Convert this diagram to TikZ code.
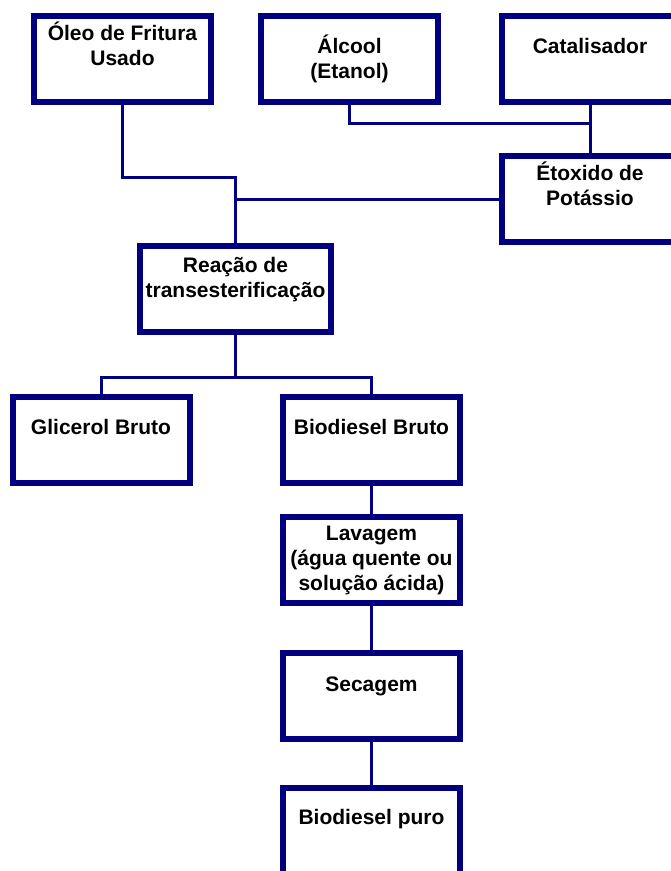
\documentclass[tikz,border=0pt]{standalone}
\usepackage{fontspec}
\setmainfont{Liberation Sans}
\definecolor{navy}{RGB}{0,0,128}
\newcommand{\boxtext}[3][177pt]{\parbox[t][86pt][t]{#1}{\centering\rule{0pt}{#2pt}#3}}
\begin{document}
\begin{tikzpicture}[x=1pt,y=-1pt,
	caixa/.style={draw=navy,line width=6pt,inner sep=0pt,font=\bfseries\fontsize{21}{25}\selectfont},
	liga/.style={draw=navy,line width=3pt}]
				\useasboundingbox (0,0) rectangle (671,871);
				\node[caixa] (oleo) at (122.5,59) {\boxtext{24}{Óleo de Fritura\\Usado}};
				\node[caixa] (alcool) at (349.5,59) {\boxtext{37}{Álcool\\(Etanol)}};
				\node[caixa] (catal) at (590,59) {\boxtext{37}{Catalisador}};
				\node[caixa] (etox) at (590,199) {\boxtext{24}{Étoxido de\\Potássio}};
				\node[caixa] (reacao) at (235.5,289) {\boxtext[191pt]{26}{Reação de\\transesterificação}};
				\node[caixa] (glicerol) at (101,439.5) {\boxtext{38}{Glicerol Bruto}};
				\node[caixa] (biobruto) at (371.5,439.5) {\boxtext{38}{Biodiesel Bruto}};
				\node[caixa] (lavagem) at (371.5,560) {\boxtext{23}{Lavagem\\(água quente ou\\solução ácida)}};
				\node[caixa] (secagem) at (371.5,696) {\boxtext{38}{Secagem}};
				\node[caixa] (puro) at (371.5,831) {\boxtext{36}{Biodiesel puro}};
				\coordinate (j1) at (235.5,177);
				\coordinate (j2) at (590,123);
				\coordinate (j3) at (235.5,377);
				\draw[liga] (oleo.south) |- (j1) -- (reacao.north);
				\draw[liga] (etox.west) -- (etox.west -| j1);
				\draw[liga] (alcool.south) |- (j2);
				\draw[liga] (catal.south) -- (etox.north);
				\draw[liga] (reacao.south) -- (j3);
				\draw[liga] (glicerol.north) |- (biobruto.north |- j3) -- (biobruto.north);
				\draw[liga] (biobruto.south) -- (lavagem.north);
				\draw[liga] (lavagem.south) -- (secagem.north);
				\draw[liga] (secagem.south) -- (puro.north);
				\end{tikzpicture}
\end{document}
